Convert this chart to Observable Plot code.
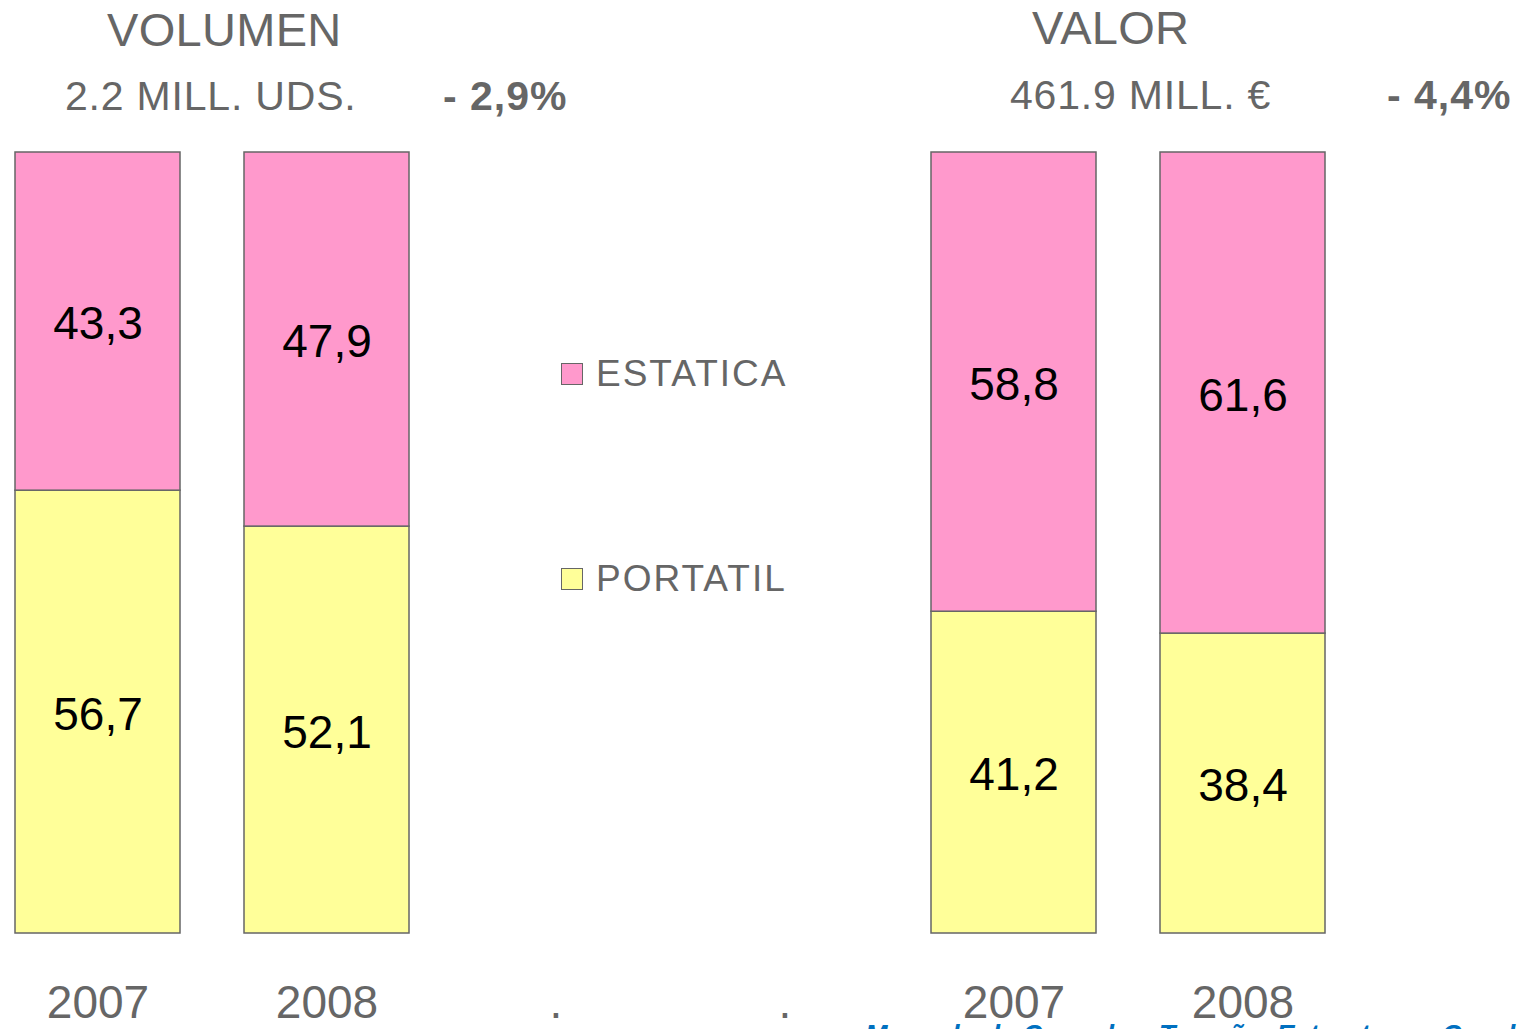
<!DOCTYPE html>
<html>
<head>
<meta charset="utf-8">
<script src="https://cdn.jsdelivr.net/npm/d3@7"></script>
<script src="https://cdn.jsdelivr.net/npm/@observablehq/plot@0.6"></script>
<style>
  html, body { margin: 0; padding: 0; background: #fff; overflow: hidden; }
  body { font-family: "Liberation Sans", Arial, sans-serif; }
  #wrap { position: relative; width: 1523px; height: 1029px; overflow: hidden; }
  #chart { position: absolute; left: 0; top: 0; }
  .ov { position: absolute; white-space: nowrap; color: #666; line-height: 1; }
  .title { font-size: 47px; letter-spacing: 0.3px; }
  .sub { font-size: 41px; letter-spacing: 0.8px; }
  .pct { font-size: 41px; font-weight: bold; letter-spacing: 1px; }
  .leg { font-size: 37px; letter-spacing: 2px; display: flex; align-items: center; }
  .sw { width: 20px; height: 20px; border: 1.5px solid #666; margin-right: 13px; }
  .foot { font-size: 27px; font-weight: bold; font-style: italic; color: #0070C0; }
</style>
</head>
<body>
<div id="wrap"><div id="chart"></div></div>
<script>
// ---- data ----
const panels = ["VOLUMEN", "VALOR"];
const subtitles = ["2.2 MILL. UDS.", "461.9 MILL. \u20AC"];
const changes = ["- 2,9%", "- 4,4%"];
const years = ["2007", "2008"];
const segments = ["ESTATICA", "PORTATIL"];
const segmentColors = ["#FF99CC", "#FFFF99"];
const volumenEstatica = [43.3, 47.9];
const volumenPortatil = [56.7, 52.1];
const valorEstatica = [58.8, 61.6];
const valorPortatil = [41.2, 38.4];
const xKeys = ["V2007", "V2008", "gap1", "gap2", "E2007", "E2008"];
const xTickLabels = ["2007", "2008", ".", ".", "2007", "2008"];
const footer = "Mercado de Consolas. Tama\u00F1o, Estructura y Canal";

// ---- build table ----
const rows = [];
years.forEach((yr, i) => {
  rows.push({key: "V" + yr, segment: "PORTATIL", value: volumenPortatil[i]});
  rows.push({key: "E" + yr, segment: "PORTATIL", value: valorPortatil[i]});
});
years.forEach((yr, i) => {
  rows.push({key: "V" + yr, segment: "ESTATICA", value: volumenEstatica[i]});
  rows.push({key: "E" + yr, segment: "ESTATICA", value: valorEstatica[i]});
});
const labelOf = new Map(xKeys.map((k, i) => [k, xTickLabels[i]]));
const fmt = v => v.toFixed(1).replace(".", ",");

const plot = Plot.plot({
  width: 1523,
  height: 1029,
  marginLeft: 15,
  marginRight: 198,
  marginTop: 152,
  marginBottom: 96,
  style: {fontFamily: "Liberation Sans, Arial, sans-serif", fontSize: "46px", color: "#666", background: "#fff"},
  x: {domain: xKeys, paddingInner: 0.28, paddingOuter: 0, tickSize: 0, tickPadding: 52,
      tickFormat: d => labelOf.get(d), label: null},
  y: {domain: [0, 100], axis: null},
  color: {domain: segments, range: segmentColors},
  marks: [
    Plot.barY(rows, Plot.stackY({x: "key", y: "value", fill: "segment", stroke: "#666", strokeWidth: 1.5})),
    Plot.text(rows, Plot.stackY({x: "key", y: "value", text: d => fmt(d.value), fill: "#000", fontSize: 46, dy: 3}))
  ]
});
document.getElementById("chart").appendChild(plot);

// ---- overlays: titles, legend, footer ----
const wrap = document.getElementById("wrap");
function add(cls, text, left, top) {
  const d = document.createElement("div");
  d.className = "ov " + cls;
  d.textContent = text;
  d.style.left = left + "px";
  d.style.top = top + "px";
  wrap.appendChild(d);
  return d;
}
const titlePos = [[107, 6], [1032, 4]];
const subPos = [[65, 76], [1010, 75]];
const pctPos = [[443, 76], [1387, 75]];
panels.forEach((p, i) => {
  add("title", p, titlePos[i][0], titlePos[i][1]);
  add("sub", subtitles[i], subPos[i][0], subPos[i][1]);
  add("pct", changes[i], pctPos[i][0], pctPos[i][1]);
});
const legTops = [355, 560];
segments.forEach((s, i) => {
  const d = document.createElement("div");
  d.className = "ov leg";
  d.style.left = "561px";
  d.style.top = legTops[i] + "px";
  const sw = document.createElement("div");
  sw.className = "sw";
  sw.style.background = segmentColors[i];
  const t = document.createElement("span");
  t.textContent = s;
  d.appendChild(sw); d.appendChild(t);
  wrap.appendChild(d);
});
add("foot", footer, 865, 1022);
</script>
</body>
</html>
